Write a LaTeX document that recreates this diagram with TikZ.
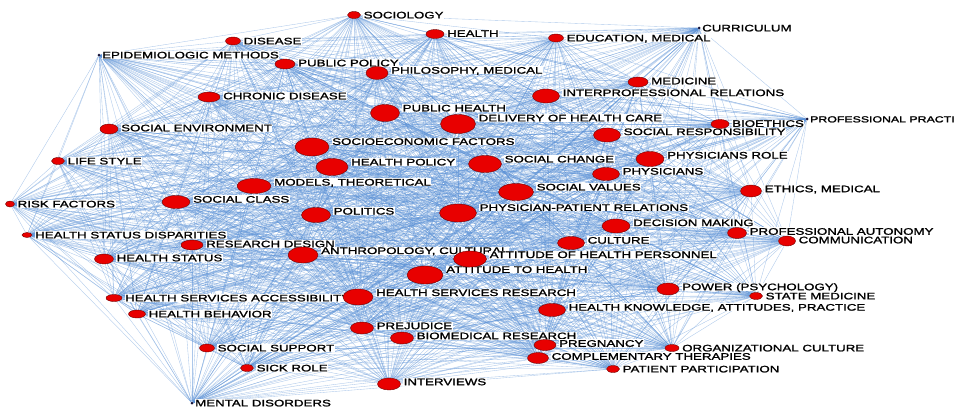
\documentclass[tikz,border=0pt]{standalone}
\usepackage{fontspec}
\newfontfamily\lblfont[FakeStretch=1.4,FakeBold=1.6]{Liberation Sans}
\definecolor{edgeblue}{RGB}{90,145,215}
\definecolor{ballred}{RGB}{232,0,0}
\definecolor{balledge}{RGB}{110,0,0}
\definecolor{dotcol}{RGB}{20,20,60}
\pgfdeclarelayer{edges}
\pgfdeclarelayer{labels}
\pgfsetlayers{edges,labels,main}
\tikzset{
  ball/.style={ellipse,draw=balledge,fill=ballred,line width=0.4pt,inner sep=0pt},
  smalldot/.style={circle,fill=dotcol,minimum size=3pt,inner sep=0pt},
  lbl/.style={anchor=west,fill=white,inner sep=0.5pt,text height=6.8pt,text depth=0pt,
    font=\lblfont\fontsize{9.5}{10}\selectfont,text=black},
  edge/.style={draw=edgeblue,line width=0.35pt,opacity=0.5}
}
\usetikzlibrary{shapes.geometric}
\newcommand\nd[6]{%
  \node[ball,minimum width=#4pt,minimum height=#5pt] (#1) at (#2,#3) {};
  \pgfmathsetmacro\lk{max(0,(#5-8)*0.55)}%
  \pgfmathsetmacro\lx{#2+#4/2+2.5}%
  \pgfmathsetmacro\ly{#3-\lk}%
  \begin{pgfonlayer}{labels}
    \node[lbl] (#1l) at (\lx,\ly) {#6};
  \end{pgfonlayer}
}
\newcommand\dt[5][]{%
  \node[smalldot] (#2) at (#3,#4) {};
  \pgfmathsetmacro\lx{#3+2.5}%
  \begin{pgfonlayer}{labels}
    \node[lbl,#1] (#2l) at (\lx,#4) {#5};
  \end{pgfonlayer}
}
\def\nodelist{soc,dis,hea,edu,cur,epi,ppol,phil,med,chr,ipr,ph,dhc,bio,prof,senv,sres,sef,hpol,sch,phr,phy,ls,mod,sv,eth,rf,scl,pol,ppr,dm,pa,com,hsd,rd,cul,ant,ahp,hs,ath,pow,sm,hsa,hsr,hk,hb,pre,bmr,preg,ss,ct,oc,sr,ppart,int,md}
\begin{document}
\begin{tikzpicture}[x=1pt,y=-1pt]
\useasboundingbox (0,0) rectangle (963,408);
\begin{pgfonlayer}{edges}
\fill[white] (0,0) rectangle (963,408);
\end{pgfonlayer}
\nd{soc}{354}{15}{13}{7}{SOCIOLOGY}
\nd{dis}{233}{41}{15}{8}{DISEASE}
\nd{hea}{435}{34}{18}{9}{HEALTH}
\nd{edu}{556}{38}{15}{8}{EDUCATION, MEDICAL}
\dt{cur}{699}{28}{CURRICULUM}
\dt{epi}{99}{55}{EPIDEMIOLOGIC METHODS}
\nd{ppol}{285}{64}{20}{10}{PUBLIC POLICY}
\nd{phil}{377}{73}{22}{13}{PHILOSOPHY, MEDICAL}
\nd{med}{638}{82}{20}{10}{MEDICINE}
\nd{chr}{209}{97}{22}{10}{CHRONIC DISEASE}
\nd{ipr}{546}{96}{27}{14}{INTERPROFESSIONAL RELATIONS}
\nd{ph}{385}{113}{29}{17}{PUBLIC HEALTH}
\nd{dhc}{458}{124}{35}{19}{DELIVERY OF HEALTH CARE}
\nd{bio}{720}{124}{18}{9}{BIOETHICS}
\dt[font=\lblfont\fontsize{8.8}{10}\selectfont]{prof}{807}{119}{PROFESSIONAL PRACTI}
\nd{senv}{109}{129}{18}{10}{SOCIAL ENVIRONMENT}
\nd{sres}{607}{135}{27}{14}{SOCIAL RESPONSIBILITY}
\nd{sef}{312}{147}{34}{18}{SOCIOECONOMIC FACTORS}
\nd{hpol}{332}{167}{32}{17}{HEALTH POLICY}
\nd{sch}{485}{164}{33}{17}{SOCIAL CHANGE}
\nd{phr}{650}{159}{28}{15}{PHYSICIANS ROLE}
\nd{phy}{606}{174}{27}{13}{PHYSICIANS}
\nd{ls}{58}{161}{13}{7}{LIFE STYLE}
\nd{mod}{254}{186}{34}{15}{MODELS, THEORETICAL}
\nd{sv}{516}{192}{35}{17}{SOCIAL VALUES}
\nd{eth}{751}{191}{21}{12}{ETHICS, MEDICAL}
\nd{rf}{10}{204}{9}{6}{RISK FACTORS}
\nd{scl}{176}{202}{28}{13}{SOCIAL CLASS}
\nd{pol}{316}{215}{29}{15}{POLITICS}
\nd{ppr}{458}{213}{37}{18}{PHYSICIAN-PATIENT RELATIONS}
\nd{dm}{616}{226}{28}{14}{DECISION MAKING}
\nd{pa}{737}{233}{19}{11}{PROFESSIONAL AUTONOMY}
\nd{com}{787}{241}{17}{10}{COMMUNICATION}
\nd{hsd}{27}{235}{10}{5}{HEALTH STATUS DISPARITIES}
\nd{rd}{192}{245}{22}{10}{RESEARCH DESIGN}
\nd{cul}{571}{243}{27}{13}{CULTURE}
\nd{ant}{303}{255}{30}{16}{ANTHROPOLOGY, CULTURAL}
\nd{ahp}{470}{259}{33}{16}{ATTITUDE OF HEALTH PERSONNEL}
\nd{hs}{104}{259}{19}{10}{HEALTH STATUS}
\nd{ath}{425}{275}{36}{18}{ATTITUDE TO HEALTH}
\nd{pow}{668}{289}{22}{12}{POWER (PSYCHOLOGY)}
\nd{sm}{756}{296}{13}{7}{STATE MEDICINE}
\nd{hsa}{114}{298}{16}{7}{HEALTH SERVICES ACCESSIBILITY}
\nd{hsr}{358}{297}{30}{16}{HEALTH SERVICES RESEARCH}
\nd{hk}{552}{310}{27}{13}{HEALTH KNOWLEDGE, ATTITUDES, PRACTICE}
\nd{hb}{137}{314}{17}{8}{HEALTH BEHAVIOR}
\nd{pre}{362}{328}{23}{12}{PREJUDICE}
\nd{bmr}{402}{338}{23}{12}{BIOMEDICAL RESEARCH}
\nd{preg}{545}{345}{22}{11}{PREGNANCY}
\nd{ss}{207}{348}{15}{8}{SOCIAL SUPPORT}
\nd{ct}{538}{358}{21}{11}{COMPLEMENTARY THERAPIES}
\nd{oc}{672}{348}{14}{7}{ORGANIZATIONAL CULTURE}
\nd{sr}{247}{368}{13}{7}{SICK ROLE}
\nd{ppart}{613}{369}{13}{7}{PATIENT PARTICIPATION}
\nd{int}{389}{384}{23}{12}{INTERVIEWS}
\dt{md}{192}{403}{MENTAL DISORDERS}
\begin{pgfonlayer}{edges}
\foreach \a [count=\i] in \nodelist {
  \foreach \b [count=\j] in \nodelist {
    \ifnum\j>\i \draw[edge] (\a) -- (\b); \fi
  }
}
\end{pgfonlayer}
\end{tikzpicture}
\end{document}
